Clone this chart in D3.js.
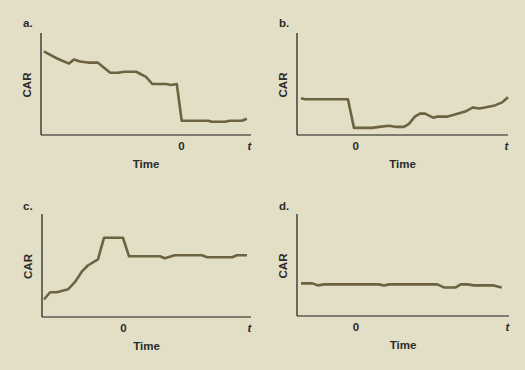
<!DOCTYPE html>
<html><head><meta charset="utf-8">
<script src="https://cdn.jsdelivr.net/npm/d3@7"></script>
<style>
html,body{margin:0;padding:0;background:#e2dfc6;}
svg{display:block;}
text{font-family:"Liberation Sans",Arial,sans-serif;font-weight:bold;fill:#2b2b2b;}
</style></head>
<body>
<svg id="chart" width="525" height="370"></svg>
<script>
// Panel labels
const panelNames = ["a.", "b.", "c.", "d."];
const xTickLabels = ["0", "t"];
const yLabel = "CAR";
const xLabel = "Time";

// Time domains (days relative to event) for each panel
const domainA = [-20, 10];
const domainB = [-8, 21];
const domainC = [-12, 19];
const domainD = [-8, 21];

// Series: [day, CAR]
const seriesA = [[-19.6,82],[-17.7,75],[-16,70],[-15.3,74],[-14.4,72],[-13.3,71],[-11.9,71],[-11,66],[-10.1,61],[-9,61],[-8.1,62],[-6.4,62],[-5,57],[-4.1,50],[-2.1,50],[-1.4,49],[-0.6,50],[0.1,14],[3.9,14],[4.4,13],[6.3,13],[7,14],[8.7,14],[9.4,16]];
const seriesB = [[-7.45,36],[-6.9,35],[-1.0,35],[-0.17,7],[2.3,7],[3.3,8],[4.6,9],[5.5,8],[6.7,8],[7.4,11],[8.2,18],[8.9,21],[9.6,21],[10.7,17],[11.2,18],[12.6,18],[13.7,20],[15.1,23],[16.2,27],[17.0,26],[17.8,27],[19.2,29],[20.2,32],[21,37]];
const seriesC = [[-11.7,17],[-10.8,24],[-9.8,24],[-8.1,27],[-7.1,34],[-6.1,44],[-5.2,50],[-3.7,56],[-2.8,77],[-1.5,77],[0,77],[0.9,59],[5.5,59],[6.2,57],[7.7,60],[11.7,60],[12.5,58],[16.2,58],[16.9,60],[18.4,60]];
const seriesD = [[-7.45,32],[-5.9,32],[-5.1,30],[-4.3,31],[3.2,31],[3.9,30],[4.6,31],[11.2,31],[12.1,28],[13.7,28],[14.4,31],[15.3,31],[16.2,30],[18.9,30],[20.0,28]];

const panels = [
  {name: panelNames[0], domain: domainA, data: seriesA, left: 41, right: 251, top: 33, bottom: 135, labelX: 23, labelY: 27},
  {name: panelNames[1], domain: domainB, data: seriesB, left: 297, right: 508, top: 33, bottom: 135, labelX: 279, labelY: 27},
  {name: panelNames[2], domain: domainC, data: seriesC, left: 42, right: 251, top: 214, bottom: 317, labelX: 23, labelY: 210},
  {name: panelNames[3], domain: domainD, data: seriesD, left: 297, right: 509, top: 214, bottom: 316, labelX: 279, labelY: 210}
];

const svg = d3.select("#chart");

panels.forEach(p => {
  const g = svg.append("g");
  const x = d3.scaleLinear().domain(p.domain).range([p.left, p.right]);
  const y = d3.scaleLinear().domain([0, 100]).range([p.bottom, p.top]);

  // axes lines
  g.append("line").attr("x1", p.left).attr("x2", p.left).attr("y1", p.top).attr("y2", p.bottom)
    .attr("stroke", "#1a1a1a").attr("stroke-width", 1.2);
  g.append("line").attr("x1", p.left).attr("x2", p.right).attr("y1", p.bottom).attr("y2", p.bottom)
    .attr("stroke", "#1a1a1a").attr("stroke-width", 1.2);

  // tick labels via axis
  const axis = d3.axisBottom(x).tickValues([0, p.domain[1]])
    .tickFormat((d, i) => xTickLabels[i]).tickSize(0).tickPadding(7);
  const ax = g.append("g").attr("transform", `translate(0,${p.bottom})`).call(axis);
  ax.select(".domain").remove();
  ax.selectAll("text").attr("font-size", 11.5).attr("fill", "#2b2b2b")
    .style("font-family", '"Liberation Sans",Arial,sans-serif').style("font-weight", "bold")
    .style("font-style", (d, i) => i === 1 ? "italic" : "normal")
    .attr("dx", (d, i) => i === 1 ? -2 : 0);

  // x label
  g.append("text").attr("x", (p.left + p.right) / 2).attr("y", p.bottom + 33)
    .attr("text-anchor", "middle").attr("font-size", 11.5).text(xLabel);

  // y label
  g.append("text").attr("transform", `translate(${p.left - 10},${(p.top + p.bottom) / 2 + 1}) rotate(-90)`)
    .attr("text-anchor", "middle").attr("font-size", 11.5).text(yLabel);

  // panel name
  g.append("text").attr("x", p.labelX).attr("y", p.labelY).attr("font-size", 11.5).text(p.name);

  // series line
  const line = d3.line().x(d => x(d[0])).y(d => y(d[1]));
  g.append("path").datum(p.data).attr("d", line).attr("fill", "none")
    .attr("stroke", "#6d6241").attr("stroke-width", 2.6).attr("stroke-linejoin", "round");
});
</script>
</body></html>
